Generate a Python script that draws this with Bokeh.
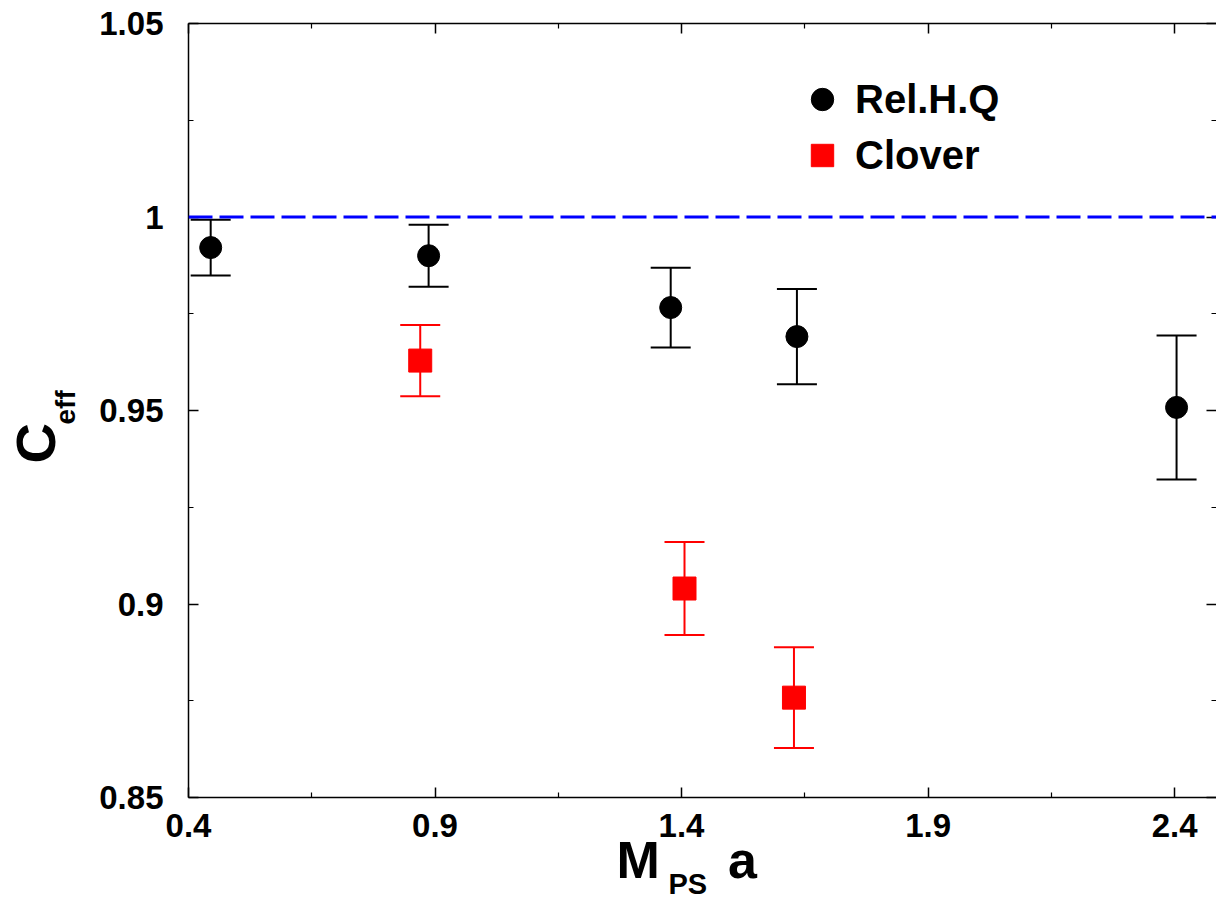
from bokeh.plotting import figure
from bokeh.models import (ColumnDataSource, Whisker, TeeHead, Span, Legend,
                          LegendItem, LinearAxis, FixedTicker, Range1d, Title)
from bokeh.embed import file_html
from bokeh.resources import INLINE

# ---- data ----
rel_x = [0.445, 0.887, 1.378, 1.634, 2.404]
rel_y = [0.9921, 0.990, 0.9766, 0.9691, 0.9508]
rel_err = [0.0072, 0.008, 0.0103, 0.0123, 0.0186]

clv_x = [0.870, 1.406, 1.628]
clv_y = [0.9629, 0.904, 0.8758]
clv_err = [0.0092, 0.012, 0.013]

x_ticks = [0.4, 0.9, 1.4, 1.9, 2.4]
x_minor = [0.65, 1.15, 1.65, 2.15]
y_ticks = [0.85, 0.9, 0.95, 1.0, 1.05]
y_minor = [0.875, 0.925, 0.975, 1.025]
y_tick_labels = ["0.85", "0.9", "0.95", "1", "1.05"]
x_tick_labels = ["0.4", "0.9", "1.4", "1.9", "2.4"]

FONT = "Liberation Sans"

p = figure(width=1216, height=902, output_backend="svg", toolbar_location=None,
           x_range=Range1d(0.4, 2.485), y_range=Range1d(0.85, 1.05),
           min_border_left=188, min_border_right=0, min_border_top=23,
           min_border_bottom=105)
p.grid.visible = False
p.outline_line_color = None
p.background_fill_color = "white"

rel_src = ColumnDataSource(dict(x=rel_x, y=rel_y,
                                upper=[a + b for a, b in zip(rel_y, rel_err)],
                                lower=[a - b for a, b in zip(rel_y, rel_err)]))
clv_src = ColumnDataSource(dict(x=clv_x, y=clv_y,
                                upper=[a + b for a, b in zip(clv_y, clv_err)],
                                lower=[a - b for a, b in zip(clv_y, clv_err)]))

p.add_layout(Span(location=1.0, dimension="width", line_color="#0000ff",
                  line_width=3, line_dash="24 7"))

for src, col in ((rel_src, "black"), (clv_src, "#ff0000")):
    p.add_layout(Whisker(source=src, base="x", upper="upper", lower="lower",
                         dimension="height", line_color=col, line_width=2,
                         upper_head=TeeHead(size=40, line_color=col, line_width=2),
                         lower_head=TeeHead(size=40, line_color=col, line_width=2)))

r1 = p.scatter("x", "y", source=rel_src, marker="circle", size=22,
               fill_color="black", line_color="black")
r2 = p.scatter("x", "y", source=clv_src, marker="square", size=23,
               fill_color="#ff0000", line_color="#ff0000")

def style_axis(ax, labels, ticks, minor, show_labels=True, line=True):
    ax.ticker = FixedTicker(ticks=ticks, minor_ticks=minor)
    ax.major_tick_in = 10
    ax.major_tick_out = 0
    ax.minor_tick_in = 5
    ax.minor_tick_out = 0
    ax.major_tick_line_color = "black"
    ax.minor_tick_line_color = "black"
    ax.major_tick_line_width = 1.5
    ax.minor_tick_line_width = 1.2
    ax.axis_line_width = 1.5
    ax.axis_line_color = "black" if line else None
    if show_labels:
        ax.major_label_overrides = {t: l for t, l in zip(ticks, labels)}
        ax.major_label_text_font = FONT
        ax.major_label_text_font_style = "bold"
        ax.major_label_text_font_size = "33px"
        ax.major_label_text_color = "black"
    else:
        ax.major_label_overrides = {t: "" for t in ticks}
        ax.major_label_text_font_size = "1px"
        ax.major_label_standoff = 0

style_axis(p.xaxis[0], x_tick_labels, x_ticks, x_minor)
p.xaxis[0].major_label_standoff = 16
style_axis(p.yaxis[0], y_tick_labels, y_ticks, y_minor)
p.yaxis[0].major_label_standoff = 25

top = LinearAxis()
style_axis(top, x_tick_labels, x_ticks, x_minor, show_labels=False)
p.add_layout(top, "above")
right = LinearAxis()
style_axis(right, y_tick_labels, y_ticks, y_minor, show_labels=False, line=False)
p.add_layout(right, "right")

legend = Legend(items=[LegendItem(label="Rel.H.Q", renderers=[r1]),
                       LegendItem(label="Clover", renderers=[r2])],
                location=(606, 614), glyph_width=56, glyph_height=56,
                label_height=56, spacing=0, padding=0, margin=0,
                label_standoff=5, border_line_color=None,
                background_fill_alpha=0, label_text_font=FONT,
                label_text_font_style="bold", label_text_font_size="40px",
                label_text_color="black")
p.add_layout(legend)

def title(text, size, place, offset, standoff, valign):
    t = Title(text=text, align="left", vertical_align=valign, offset=offset,
              standoff=standoff, text_font=FONT, text_font_style="bold",
              text_font_size=size, text_color="black")
    p.add_layout(t, place)

# y label: C with subscript eff (stacked outward from the axis)
title("eff", "28px", "left", 373, 28, "top")
title("C", "56px", "left", 334, -62, "bottom")
# x label: M_PS a
title("M\u00a0\u00a0\u00a0\u00a0\u2009a", "52px", "below", 428, -17, "top")
title("PS", "29px", "below", 480, -29, "top")

open("out.html", "w").write(file_html(p, INLINE))
